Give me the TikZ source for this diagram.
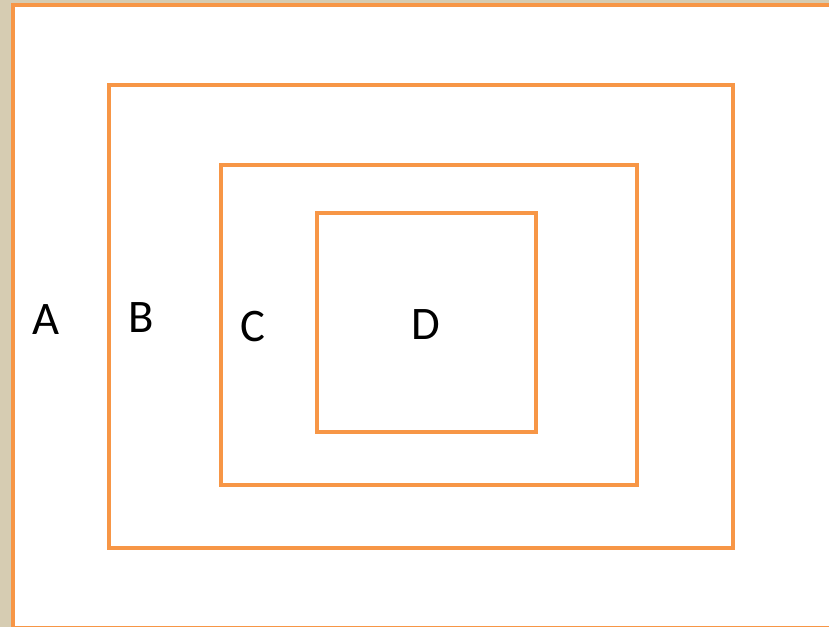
\documentclass[tikz,border=0pt]{standalone}
\usepackage{fontspec}
\setmainfont{Carlito}
\usepackage{tikz}
\definecolor{boxorange}{RGB}{247,150,70}
\definecolor{paper}{RGB}{214,204,178}

\begin{document}
\begin{tikzpicture}[
    x = 0.75pt,
    y = -0.75pt,
    box/.style = {draw = boxorange, line width = 3.5pt},
    letter/.style = {font = \fontsize{35}{42}\selectfont, inner sep = 0pt}
]

% 0. Page frame and background strip
\useasboundingbox (0,0) rectangle (829,627);
\clip (0,0) rectangle (829,627);
\fill[paper] (0,0) rectangle (829,627);
\fill[white] (13,5) rectangle (845,628);

% 1. Nested boxes, outermost first
\draw[box] (13,5) rectangle (845,628.5);
\draw[box] (109,85) rectangle (733,548);
\draw[box] (221,165) rectangle (637,485);
\draw[box] (317,213) rectangle (536,432);

% 2. Region letters
\node[letter] (A) at (46,320) {A};
\node[letter] (B) at (141,318) {B};
\node[letter] (C) at (253,327) {C};
\node[letter] (D) at (426,325) {D};

\end{tikzpicture}
\end{document}
